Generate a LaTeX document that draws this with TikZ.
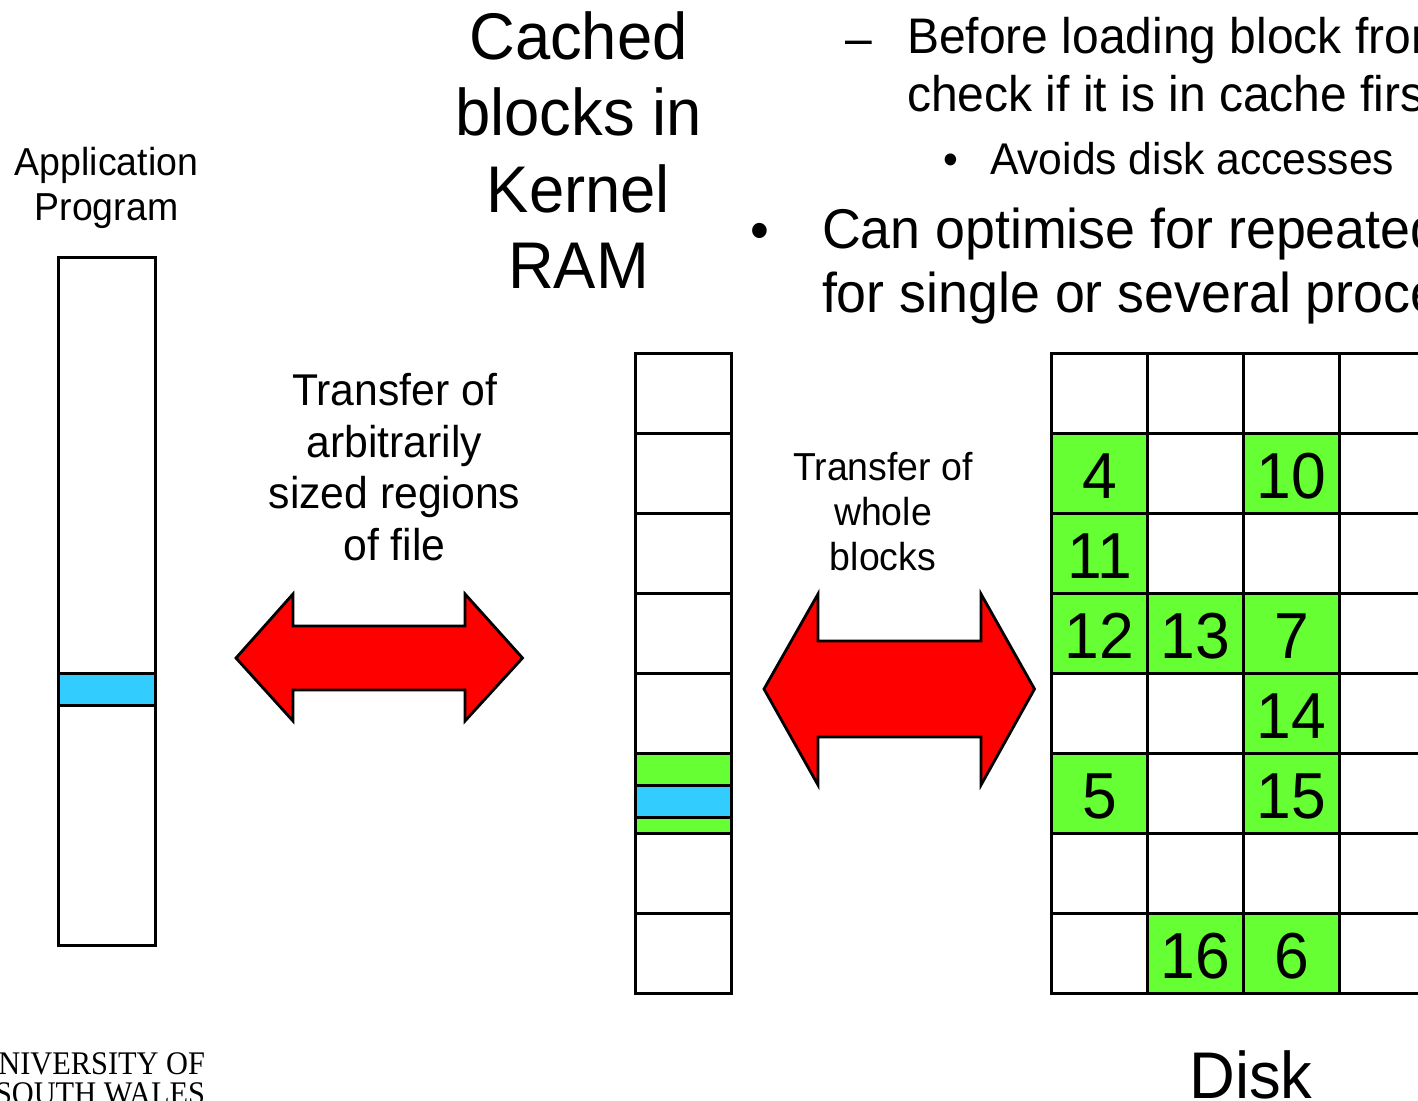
\documentclass[tikz,border=0pt]{standalone}
\usepackage{fontspec}
\setmainfont[FakeStretch=0.96]{Liberation Sans}
\newfontfamily\unifont[FakeStretch=0.92]{Liberation Serif}
\definecolor{cellgreen}{HTML}{66FF33}
\definecolor{hiblue}{HTML}{33CCFF}
\newcommand{\fs}[1]{\fontsize{#1}{#1}\selectfont}
\tikzset{
  x=1pt,y=-1pt,
  cell/.style={draw=black,line width=2.8pt,fill=white,minimum width=96pt,minimum height=80pt,inner sep=0pt,outer sep=0pt,font=\fs{65}},
  full/.style={cell,fill=cellgreen,text height=50pt,text depth=0pt},
  band/.style={draw=black,line width=2.8pt,fill=hiblue,minimum width=96pt,minimum height=32pt,inner sep=0pt,outer sep=0pt},
  bigarrow/.style={draw=black,line width=2.8pt,fill=red,line join=miter},
  txt/.style={inner sep=0pt,outer sep=0pt,align=center},
  lefttxt/.style={inner sep=0pt,outer sep=0pt,align=left,anchor=base west},
}
\begin{document}
\begin{tikzpicture}
\useasboundingbox (0,0) rectangle (1418,1100);
\clip (0,0) rectangle (1418,1100);
\fill[white] (0,0) rectangle (1418,1100);
% application bar
\node[draw=black,line width=2.8pt,fill=white,minimum width=97pt,minimum height=688pt,inner sep=0pt,outer sep=0pt] (app) at (107,601.5) {};
\node[band,minimum width=97pt] (appband) at (107,689.5) {};
\node[txt,font=\fontsize{39}{45}\selectfont] (apptitle) at (106.5,188) {Application\\Program};
% cache column
\foreach \r/\y in {1/393.5,2/473.5,3/553.5,4/633.5,5/713.5,6/793.5,7/873.5,8/953.5}{
  \node[cell] (c\r) at (683.5,\y) {};
}
\node[full] (c6g) at (683.5,793.5) {};
\node[band] (c6b) at (683.5,801.5) {};
\node[txt,font=\fontsize{66}{76.5}\selectfont] (cachetitle) at (578.5,150) {Cached\\blocks in\\Kernel\\RAM};
% disk grid
\foreach \r/\y in {1/393.5,2/473.5,3/553.5,4/633.5,5/713.5,6/793.5,7/873.5,8/953.5}{
  \foreach \k/\x in {1/1099.5,2/1195.5,3/1291.5,4/1387.5}{
    \node[cell] (d\r-\k) at (\x,\y) {};
  }
}
\node[full] (d2-1) at (1099.5,473.5) {4};
\node[full] (d2-3) at (1291.5,473.5) {10};
\node[full] (d3-1) at (1099.5,553.5) {11};
\node[full] (d4-1) at (1099.5,633.5) {12};
\node[full] (d4-2) at (1195.5,633.5) {13};
\node[full] (d4-3) at (1291.5,633.5) {7};
\node[full] (d5-3) at (1291.5,713.5) {14};
\node[full] (d6-1) at (1099.5,793.5) {5};
\node[full] (d6-3) at (1291.5,793.5) {15};
\node[full] (d8-2) at (1195.5,953.5) {16};
\node[full] (d8-3) at (1291.5,953.5) {6};
\node[txt,font=\fs{66}] (disk) at (1251,1075) {Disk};
% transfer labels
\node[txt,font=\fontsize{44.5}{51.5}\selectfont] (t1) at (394.5,467) {Transfer of\\arbitrarily\\sized regions\\of file};
\node[txt,font=\fontsize{39}{45}\selectfont] (t2) at (883,512) {Transfer of\\whole\\blocks};
% red double arrows
\draw[bigarrow] (236,658) -- (293,594) -- (293,626) -- (465,626) -- (465,594) -- (522.5,658) -- (465,721) -- (465,690) -- (293,690) -- (293,721) -- cycle;
\draw[bigarrow] (764,689) -- (818,594) -- (818,641) -- (981,641) -- (981,594) -- (1034.5,689) -- (981,785) -- (981,737) -- (818,737) -- (818,785) -- cycle;
% bullet text
\node[lefttxt,font=\fs{50}] (b1) at (845,55) {–};
\node[lefttxt,font=\fontsize{50}{58}\selectfont] (l1) at (907,111.5) {Before loading block from\\check if it is in cache first};
\node[lefttxt,font=\fs{44}] (b2) at (943,174) {•};
\node[lefttxt,font=\fontsize{44.4}{44.4}\selectfont] (l2) at (990,174) {Avoids disk accesses};
\node[lefttxt,font=\fs{56}] (b3) at (750,249) {•};
\node[lefttxt,font=\fontsize{56}{64}\selectfont] (l3) at (822,312) {Can optimise for repeated\\for single or several proce};
% logo text
\node[inner sep=0pt,outer sep=0pt,align=right,anchor=base east,font=\fontsize{33}{30}\selectfont\unifont] (logo) at (205,1104) {UNIVERSITY OF\\SOUTH WALES};
\end{tikzpicture}
\end{document}
